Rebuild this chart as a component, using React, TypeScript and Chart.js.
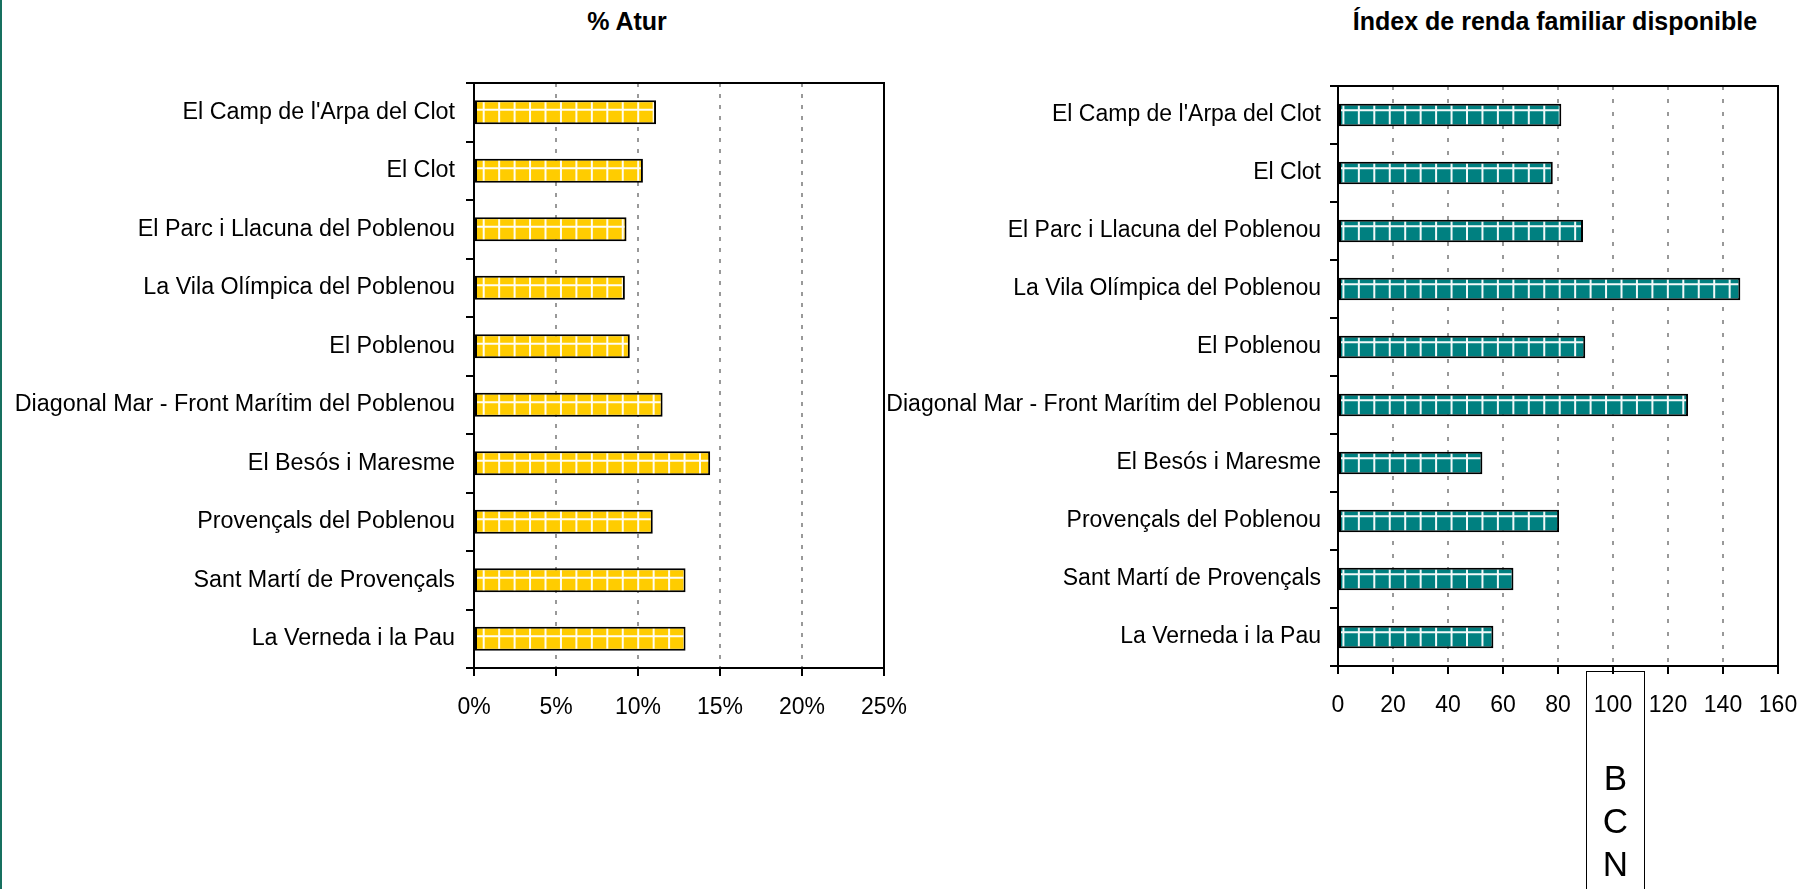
import React, { useEffect, useRef } from 'react';
import { Chart, registerables } from 'chart.js';

Chart.register(...registerables);

const neighbourhoods = [
  "El Camp de l'Arpa del Clot",
  'El Clot',
  'El Parc i Llacuna del Poblenou',
  'La Vila Olímpica del Poblenou',
  'El Poblenou',
  'Diagonal Mar - Front Marítim del Poblenou',
  'El Besós i Maresme',
  'Provençals del Poblenou',
  'Sant Martí de Provençals',
  'La Verneda i la Pau',
];
const aturValues = [11.1, 10.3, 9.3, 9.2, 9.5, 11.5, 14.4, 10.9, 12.9, 12.9];
const rendaValues = [81.2, 78.1, 89.1, 146.3, 89.9, 127.3, 52.5, 80.4, 63.8, 56.5];
const aturTicks = [0, 5, 10, 15, 20, 25];
const rendaTicks = [0, 20, 40, 60, 80, 100, 120, 140, 160];
const aturTitle = '% Atur';
const rendaTitle = 'Índex de renda familiar disponible';
const bcnLetters = ['B', 'C', 'N'];

const FONT = "'Liberation Sans', Arial, Helvetica, sans-serif";

const framePlugin = {
  id: 'frame',
  afterDraw(chart: any) {
    const { ctx, chartArea: a } = chart;
    ctx.save();
    ctx.setLineDash([]);
    ctx.strokeStyle = '#000';
    ctx.lineWidth = 2;
    ctx.strokeRect(a.left, a.top, a.right - a.left, a.bottom - a.top);
    ctx.restore();
  },
};

const gridPatternPlugin = {
  id: 'gridPattern',
  afterDatasetsDraw(chart: any, _args: any, opts: any) {
    const ctx = chart.ctx;
    const meta = chart.getDatasetMeta(0);
    meta.data.forEach((bar: any) => {
      const p = bar.getProps(['x', 'y', 'base', 'height'], true);
      const left = Math.min(p.base, p.x);
      const right = Math.max(p.base, p.x);
      const top = p.y - p.height / 2;
      const bottom = p.y + p.height / 2;
      const bw = 2;
      ctx.save();
      ctx.beginPath();
      ctx.rect(left + bw, top + bw, right - left - 2 * bw, p.height - 2 * bw);
      ctx.clip();
      ctx.strokeStyle = opts.color;
      ctx.lineWidth = opts.width;
      ctx.setLineDash([]);
      ctx.beginPath();
      for (let px = left + opts.startX; px < right; px += opts.step) {
        ctx.moveTo(px, top);
        ctx.lineTo(px, bottom);
      }
      for (let py = top + opts.startY; py < bottom; py += opts.step) {
        ctx.moveTo(left, py);
        ctx.lineTo(right, py);
      }
      ctx.stroke();
      ctx.restore();
    });
  },
};

interface Cfg {
  labels: string[];
  values: number[];
  ticks: number[];
  color: string;
  suffix: string;
  yWidth: number;
  padTop: number;
  padRight: number;
  dash: number[];
  labelPad: number;
  labelSize: number;
  barPct: number;
  patStartX: number;
  patStartY: number;
}

function HBar({ cfg, left, width, height }: { cfg: Cfg; left: number; width: number; height: number }) {
  const ref = useRef<HTMLCanvasElement>(null);
  useEffect(() => {
    if (!ref.current) return;
    const chart = new Chart(ref.current, {
      type: 'bar',
      data: {
        labels: cfg.labels,
        datasets: [
          {
            data: cfg.values,
            backgroundColor: cfg.color,
            borderColor: '#000',
            borderWidth: 2,
            borderSkipped: false,
            barPercentage: cfg.barPct,
            categoryPercentage: 1,
          },
        ],
      },
      options: {
        indexAxis: 'y',
        responsive: false,
        animation: false,
        events: [],
        layout: { padding: { top: cfg.padTop, right: cfg.padRight, left: 0, bottom: 0 } },
        plugins: {
          legend: { display: false },
          tooltip: { enabled: false },
          title: { display: false },
          gridPattern: { color: 'rgba(255,255,255,0.95)', width: 2, step: 15.45, startX: cfg.patStartX, startY: cfg.patStartY },
        } as any,
        scales: {
          x: {
            type: 'linear',
            min: cfg.ticks[0],
            max: cfg.ticks[cfg.ticks.length - 1],
            ticks: {
              stepSize: cfg.ticks[1] - cfg.ticks[0],
              padding: 18,
              color: '#000',
              font: { family: FONT, size: 23 },
              callback: (v: any) => v + cfg.suffix,
            },
            grid: {
              color: '#999999',
              lineWidth: 2,
              drawTicks: true,
              tickLength: 8,
              tickColor: '#000',
              tickWidth: 2,
              tickBorderDash: [],
            } as any,
            border: { display: false, dash: cfg.dash },
            afterFit: (s: any) => {
              s.height = 80;
            },
          },
          y: {
            type: 'category',
            offset: true,
            ticks: {
              padding: cfg.labelPad,
              color: '#000',
              font: { family: FONT, size: cfg.labelSize },
            },
            grid: {
              offset: true,
              drawOnChartArea: false,
              drawTicks: true,
              tickLength: 8,
              color: '#000',
              lineWidth: 2,
            },
            border: { display: false },
            afterFit: (s: any) => {
              s.width = cfg.yWidth;
            },
          },
        },
      } as any,
      plugins: [gridPatternPlugin, framePlugin],
    });
    return () => chart.destroy();
  }, []);
  return (
    <canvas
      ref={ref}
      width={width}
      height={height}
      style={{ position: 'absolute', left, top: 0, width, height }}
    />
  );
}

const titleStyle: React.CSSProperties = {
  position: 'absolute',
  top: 0,
  height: 42,
  lineHeight: '42px',
  textAlign: 'center',
  fontFamily: FONT,
  fontWeight: 'bold',
  fontSize: 25,
  color: '#000',
  whiteSpace: 'nowrap',
};

export default function App() {
  const aturCfg: Cfg = {
    labels: neighbourhoods,
    values: aturValues,
    ticks: aturTicks,
    color: '#FFCC00',
    suffix: '%',
    yWidth: 474,
    padTop: 83,
    padRight: 46,
    dash: [4, 7],
    labelPad: 11,
    labelSize: 23.3,
    barPct: 0.41,
    patStartX: 8.7,
    patStartY: 9.5,
  };
  const rendaCfg: Cfg = {
    labels: neighbourhoods,
    values: rendaValues,
    ticks: rendaTicks,
    color: '#008080',
    suffix: '',
    yWidth: 478,
    padTop: 86,
    padRight: 38,
    dash: [4, 9],
    labelPad: 9,
    labelSize: 23,
    barPct: 0.39,
    patStartX: 4.4,
    patStartY: 6.5,
  };
  return (
    <div
      style={{
        position: 'fixed',
        left: 0,
        top: 0,
        width: 1816,
        height: 889,
        background: '#fff',
        overflow: 'hidden',
      }}
    >
      <div style={{ position: 'absolute', left: 0, top: 0, width: 2, height: 889, background: '#17705f' }} />
      <div style={{ ...titleStyle, left: 327, width: 600 }}>{aturTitle}</div>
      <div style={{ ...titleStyle, left: 1255, width: 600 }}>{rendaTitle}</div>
      <HBar cfg={aturCfg} left={0} width={930} height={748} />
      <HBar cfg={rendaCfg} left={860} width={956} height={746} />
      <div
        style={{
          position: 'absolute',
          left: 1586,
          top: 671,
          width: 59,
          height: 260,
          border: '1.5px solid #000',
          background: 'transparent',
          fontFamily: FONT,
          fontSize: 35,
          lineHeight: '43px',
          textAlign: 'center',
          color: '#000',
          paddingTop: 84,
          boxSizing: 'border-box',
        }}
      >
        {bcnLetters.map((l) => (
          <div key={l}>{l}</div>
        ))}
      </div>
    </div>
  );
}
